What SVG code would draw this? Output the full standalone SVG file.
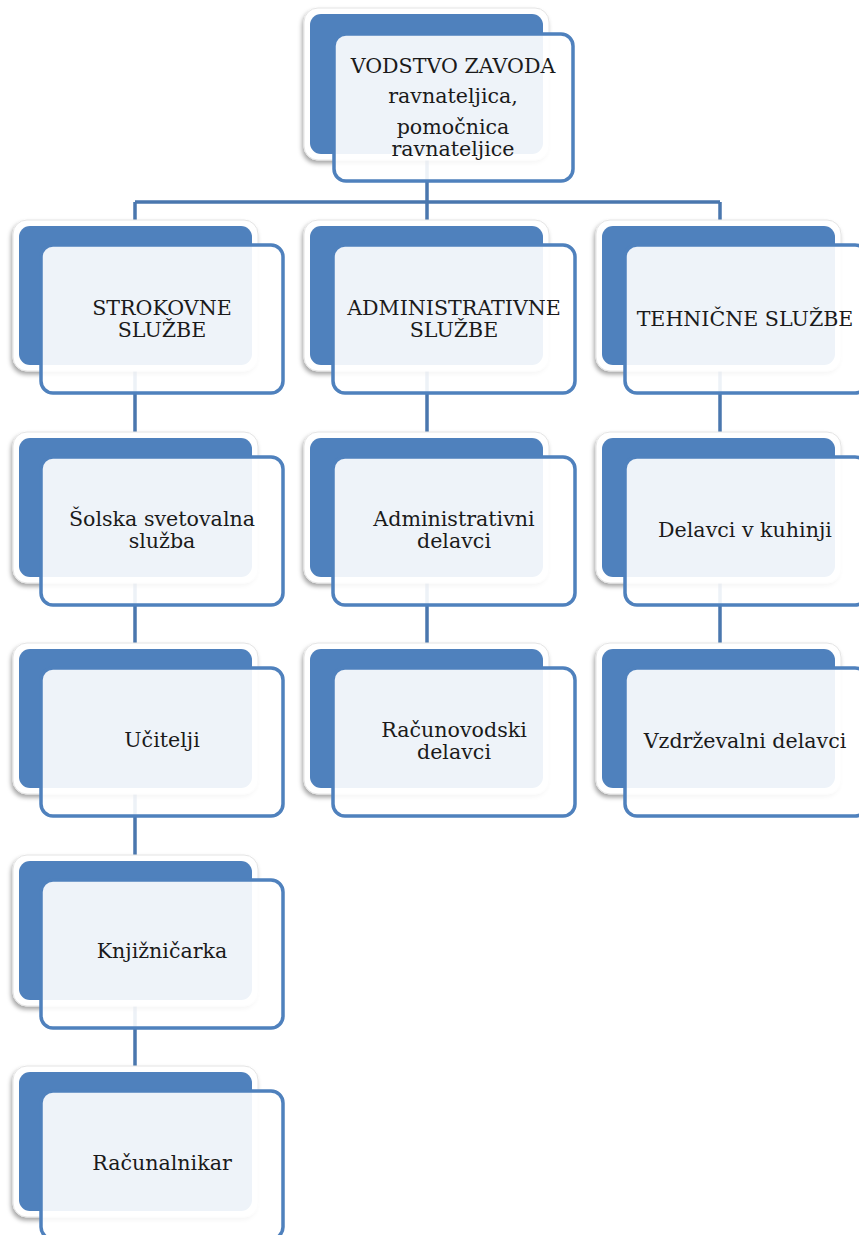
<svg xmlns="http://www.w3.org/2000/svg" width="859" height="1235" viewBox="0 0 859 1235">
<defs>
<filter id="sh" x="-10%" y="-10%" width="120%" height="125%">
<feDropShadow dx="-1.5" dy="3" stdDeviation="2" flood-color="#000" flood-opacity="0.35"/>
</filter>
</defs>
<style>
.outer{fill:#fff;stroke:#e4e4e4;stroke-width:1;filter:url(#sh)}
.blue{fill:#4F81BD}
.front{fill:#fff;fill-opacity:0.9;stroke:#4F81BD;stroke-width:3.5}
.conn{stroke:#4A77AE;stroke-width:3.5;fill:none}
text{font-family:"DejaVu Serif","Liberation Serif",serif;font-size:20.6px;fill:#1a1a1a;text-anchor:middle}
</style>
<rect width="859" height="1235" fill="#fff"/>
<g id="connectors">
<path class="conn" d="M427,100 V202 M135,202 H720 M135,202 V1120 M427,202 V700 M720,202 V700"/>
</g>
<g id="n-vodstvo">
<rect class="outer" x="304" y="8" width="245" height="152" rx="14"/>
<rect class="blue" x="310" y="14" width="233" height="140" rx="11"/>
<rect class="front" x="334" y="34" width="239" height="147" rx="12"/>
<text x="453" y="73">VODSTVO ZAVODA</text>
<text x="453" y="103">ravnateljica,</text>
<text x="453" y="134">pomočnica</text>
<text x="453" y="156">ravnateljice</text>
</g>
<g id="n-strokovne">
<rect class="outer" x="13" y="220" width="245" height="151" rx="14"/>
<rect class="blue" x="19" y="226" width="233" height="139" rx="11"/>
<rect class="front" x="41" y="245" width="242" height="148" rx="12"/>
<text x="162" y="315">STROKOVNE</text>
<text x="162" y="337">SLUŽBE</text>
</g>
<g id="n-administrativne">
<rect class="outer" x="304" y="220" width="245" height="151" rx="14"/>
<rect class="blue" x="310" y="226" width="233" height="139" rx="11"/>
<rect class="front" x="333" y="245" width="242" height="148" rx="12"/>
<text x="454" y="315">ADMINISTRATIVNE</text>
<text x="454" y="337">SLUŽBE</text>
</g>
<g id="n-tehnicne">
<rect class="outer" x="596" y="220" width="245" height="151" rx="14"/>
<rect class="blue" x="602" y="226" width="233" height="139" rx="11"/>
<rect class="front" x="625" y="245" width="242" height="148" rx="12"/>
<text x="745" y="326">TEHNIČNE SLUŽBE</text>
</g>
<g id="n-solska">
<rect class="outer" x="13" y="432" width="245" height="151" rx="14"/>
<rect class="blue" x="19" y="438" width="233" height="139" rx="11"/>
<rect class="front" x="41" y="457" width="242" height="148" rx="12"/>
<text x="162" y="526">Šolska svetovalna</text>
<text x="162" y="548">služba</text>
</g>
<g id="n-admin-delavci">
<rect class="outer" x="304" y="432" width="245" height="151" rx="14"/>
<rect class="blue" x="310" y="438" width="233" height="139" rx="11"/>
<rect class="front" x="333" y="457" width="242" height="148" rx="12"/>
<text x="454" y="526">Administrativni</text>
<text x="454" y="548">delavci</text>
</g>
<g id="n-kuhinja">
<rect class="outer" x="596" y="432" width="245" height="151" rx="14"/>
<rect class="blue" x="602" y="438" width="233" height="139" rx="11"/>
<rect class="front" x="625" y="457" width="242" height="148" rx="12"/>
<text x="745" y="537">Delavci v kuhinji</text>
</g>
<g id="n-ucitelji">
<rect class="outer" x="13" y="643" width="245" height="151" rx="14"/>
<rect class="blue" x="19" y="649" width="233" height="139" rx="11"/>
<rect class="front" x="41" y="668" width="242" height="148" rx="12"/>
<text x="162" y="747">Učitelji</text>
</g>
<g id="n-racunovodski">
<rect class="outer" x="304" y="643" width="245" height="151" rx="14"/>
<rect class="blue" x="310" y="649" width="233" height="139" rx="11"/>
<rect class="front" x="333" y="668" width="242" height="148" rx="12"/>
<text x="454" y="737">Računovodski</text>
<text x="454" y="759">delavci</text>
</g>
<g id="n-vzdrzevalni">
<rect class="outer" x="596" y="643" width="245" height="151" rx="14"/>
<rect class="blue" x="602" y="649" width="233" height="139" rx="11"/>
<rect class="front" x="625" y="668" width="242" height="148" rx="12"/>
<text x="745" y="748">Vzdrževalni delavci</text>
</g>
<g id="n-knjiznicarka">
<rect class="outer" x="13" y="855" width="245" height="151" rx="14"/>
<rect class="blue" x="19" y="861" width="233" height="139" rx="11"/>
<rect class="front" x="41" y="880" width="242" height="148" rx="12"/>
<text x="162" y="958">Knjižničarka</text>
</g>
<g id="n-racunalnikar">
<rect class="outer" x="13" y="1066" width="245" height="151" rx="14"/>
<rect class="blue" x="19" y="1072" width="233" height="139" rx="11"/>
<rect class="front" x="41" y="1091" width="242" height="148" rx="12"/>
<text x="162" y="1170">Računalnikar</text>
</g>
</svg>
